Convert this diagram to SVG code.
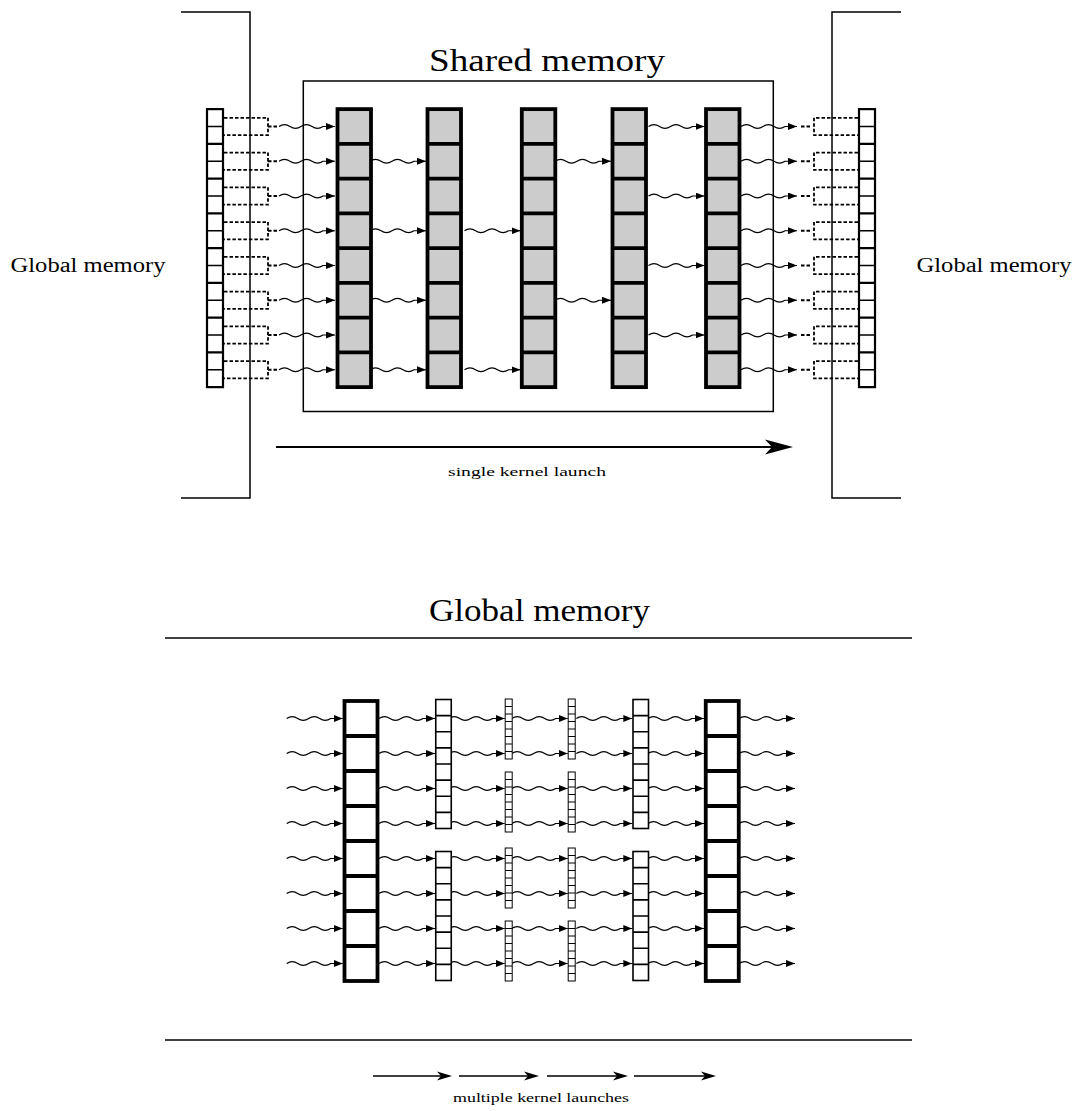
<svg xmlns="http://www.w3.org/2000/svg" xmlns:xlink="http://www.w3.org/1999/xlink" width="1078" height="1111" viewBox="0 0 1078 1111">
<style>
.wave{fill:none;stroke:#000;stroke-width:1.1;marker-end:url(#ah)}
.dash{fill:none;stroke:#000;stroke-width:1.8;stroke-dasharray:3.5 2}
.line{fill:none;stroke:#000;stroke-width:1.5}
.gray{fill:#cccccc;stroke:#000;stroke-width:3.8}
.thick{fill:#fff;stroke:#000;stroke-width:3.8}
.mid{fill:#fff;stroke:#000;stroke-width:1.6}
.thin{fill:#fff;stroke:#000;stroke-width:1}
.glob{fill:#fff;stroke:#000;stroke-width:2.2}
text{font-family:'Liberation Serif','DejaVu Serif',serif;fill:#000;stroke:none}
</style>
<defs>
<marker id="ah" viewBox="0 0 9 7" refX="9" refY="3.5" markerWidth="9" markerHeight="7" markerUnits="userSpaceOnUse" orient="auto"><path d="M0,0L9,3.5L0,7z"/></marker>
<path id="w" class="wave" d="M0,0q5.5,-3.8 11,0t11,0t11,0t11,0L56,0"/>
<g id="t8"><use href="#w" y="126.5"/><use href="#w" y="161.25"/><use href="#w" y="196"/><use href="#w" y="230.75"/><use href="#w" y="265.5"/><use href="#w" y="300.25"/><use href="#w" y="335"/><use href="#w" y="369.75"/></g>
<g id="b8"><use href="#w" y="718.5"/><use href="#w" y="753.5"/><use href="#w" y="788.5"/><use href="#w" y="823.5"/><use href="#w" y="858.5"/><use href="#w" y="893.5"/><use href="#w" y="928.5"/><use href="#w" y="963.5"/></g>
<g id="grayCol"><rect x="0" y="109.125" width="33.5" height="278"/><path d="M0,143.875h33.5M0,178.625h33.5M0,213.375h33.5M0,248.125h33.5M0,282.875h33.5M0,317.625h33.5M0,352.375h33.5"/></g>
<g id="globCol"><rect x="0" y="109.125" width="16" height="278"/><path stroke-width="1.6" d="M0,126.5h16M0,161.25h16M0,196h16M0,230.75h16M0,265.5h16M0,300.25h16M0,335h16M0,369.75h16"/><path stroke-width="2.3" d="M0,143.875h16M0,178.625h16M0,213.375h16M0,248.125h16M0,282.875h16M0,317.625h16M0,352.375h16"/></g>
<g id="bigCol"><rect x="0" y="701" width="33" height="280"/><path d="M0,736h33M0,771h33M0,806h33M0,841h33M0,876h33M0,911h33M0,946h33"/></g>
<g id="midCol"><rect x="0" y="699.5" width="15.5" height="129"/><rect x="0" y="851.5" width="15.5" height="129"/><path d="M0,715.625h15.5M0,731.75h15.5M0,747.875h15.5M0,764h15.5M0,780.125h15.5M0,796.25h15.5M0,812.375h15.5M0,867.625h15.5M0,883.75h15.5M0,899.875h15.5M0,916h15.5M0,932.125h15.5M0,948.25h15.5M0,964.375h15.5"/></g>
<g id="thinCol"><rect x="0" y="699" width="7" height="60"/><rect x="0" y="772" width="7" height="60"/><rect x="0" y="848" width="7" height="60"/><rect x="0" y="921" width="7" height="60"/><path d="M0,706.5h7M0,714h7M0,721.5h7M0,729h7M0,736.5h7M0,744h7M0,751.5h7M0,779.5h7M0,787h7M0,794.5h7M0,802h7M0,809.5h7M0,817h7M0,824.5h7M0,855.5h7M0,863h7M0,870.5h7M0,878h7M0,885.5h7M0,893h7M0,900.5h7M0,928.5h7M0,936h7M0,943.5h7M0,951h7M0,958.5h7M0,966h7M0,973.5h7"/></g>
</defs>
<rect width="1078" height="1111" fill="#fff"/>

<!-- frames and titles -->
<g id="frames">
<path class="line" d="M181,12H250V498H181"/>
<path class="line" d="M901,12H832V498H901"/>
<rect id="shared-box" x="303.3" y="81" width="470" height="330.5" fill="none" stroke="#000" stroke-width="1.5"/>
<path class="line" d="M165,638H912"/>
<path class="line" d="M165,1040H912"/>
</g>
<g id="labels">
<text x="547" y="71" font-size="32" text-anchor="middle" textLength="236" lengthAdjust="spacingAndGlyphs">Shared memory</text>
<text x="88" y="272" font-size="20" text-anchor="middle" textLength="155" lengthAdjust="spacingAndGlyphs">Global memory</text>
<text x="994" y="272" font-size="20" text-anchor="middle" textLength="155" lengthAdjust="spacingAndGlyphs">Global memory</text>
<text x="527" y="476" font-size="13.5" text-anchor="middle" textLength="158" lengthAdjust="spacingAndGlyphs">single kernel launch</text>
<text x="539.5" y="621" font-size="32" text-anchor="middle" textLength="221" lengthAdjust="spacingAndGlyphs">Global memory</text>
<text x="541" y="1102" font-size="13.5" text-anchor="middle" textLength="176" lengthAdjust="spacingAndGlyphs">multiple kernel launches</text>
</g>

<!-- connectors -->
<g id="connectors">
<path class="dash" d="M224,117.8H268V135.2H224M268,126.5H277M224,152.55H268V169.95H224M268,161.25H277M224,187.3H268V204.7H224M268,196H277M224,222.05H268V239.45H224M268,230.75H277M224,256.8H268V274.2H224M268,265.5H277M224,291.55H268V308.95H224M268,300.25H277M224,326.3H268V343.7H224M268,335H277M224,361.05H268V378.45H224M268,369.75H277"/>
<path class="dash" d="M858,117.8H814V135.2H858M801,126.5H811M858,152.55H814V169.95H858M801,161.25H811M858,187.3H814V204.7H858M801,196H811M858,222.05H814V239.45H858M801,230.75H811M858,256.8H814V274.2H858M801,265.5H811M858,291.55H814V308.95H858M801,300.25H811M858,326.3H814V343.7H858M801,335H811M858,361.05H814V378.45H858M801,369.75H811"/>
<use href="#t8" x="279"/>
<use href="#w" x="370" y="161.25"/><use href="#w" x="370" y="230.75"/><use href="#w" x="370" y="300.25"/><use href="#w" x="370" y="369.75"/>
<use href="#w" x="464.5" y="230.75"/><use href="#w" x="464.5" y="369.75"/>
<use href="#w" x="555" y="161.25"/><use href="#w" x="555" y="300.25"/>
<use href="#w" x="648.5" y="126.5"/><use href="#w" x="648.5" y="196"/><use href="#w" x="648.5" y="265.5"/><use href="#w" x="648.5" y="335"/>
<use href="#t8" x="741"/>
<use href="#b8" x="286.7"/>
<use href="#b8" x="379"/>
<use href="#b8" x="448.7"/>
<use href="#b8" x="511.7"/>
<use href="#b8" x="576.3"/>
<use href="#b8" x="648"/>
<use href="#b8" x="739"/>
<path d="M276,447H772" fill="none" stroke="#000" stroke-width="2"/>
<polygon points="793,447 765,439.5 772,447 765,454.5" fill="#000"/>
<path d="M373,1076H445M459,1076H532M547,1076H621M634,1076H709" fill="none" stroke="#000" stroke-width="1.6"/>
<path d="M437,1071.5L452,1076L437,1080.5L441,1076zM524,1071.5L539,1076L524,1080.5L528,1076zM613,1071.5L628,1076L613,1080.5L617,1076zM701,1071.5L716,1076L701,1080.5L705,1076z" fill="#000"/>
</g>

<!-- nodes -->
<g id="global-in" class="glob"><use href="#globCol" x="207"/></g>
<g id="global-out" class="glob"><use href="#globCol" x="859"/></g>
<g id="shared-1" class="gray"><use href="#grayCol" x="337.5"/></g>
<g id="shared-2" class="gray"><use href="#grayCol" x="427.5"/></g>
<g id="shared-3" class="gray"><use href="#grayCol" x="521.8"/></g>
<g id="shared-4" class="gray"><use href="#grayCol" x="612.5"/></g>
<g id="shared-5" class="gray"><use href="#grayCol" x="706"/></g>
<g id="stage-1" class="thick"><use href="#bigCol" x="344.5"/></g>
<g id="stage-2" class="mid"><use href="#midCol" x="435.75"/></g>
<g id="stage-3" class="thin"><use href="#thinCol" x="505.2"/></g>
<g id="stage-4" class="thin"><use href="#thinCol" x="568.2"/></g>
<g id="stage-5" class="mid"><use href="#midCol" x="633"/></g>
<g id="stage-6" class="thick"><use href="#bigCol" x="705.75"/></g>
</svg>
